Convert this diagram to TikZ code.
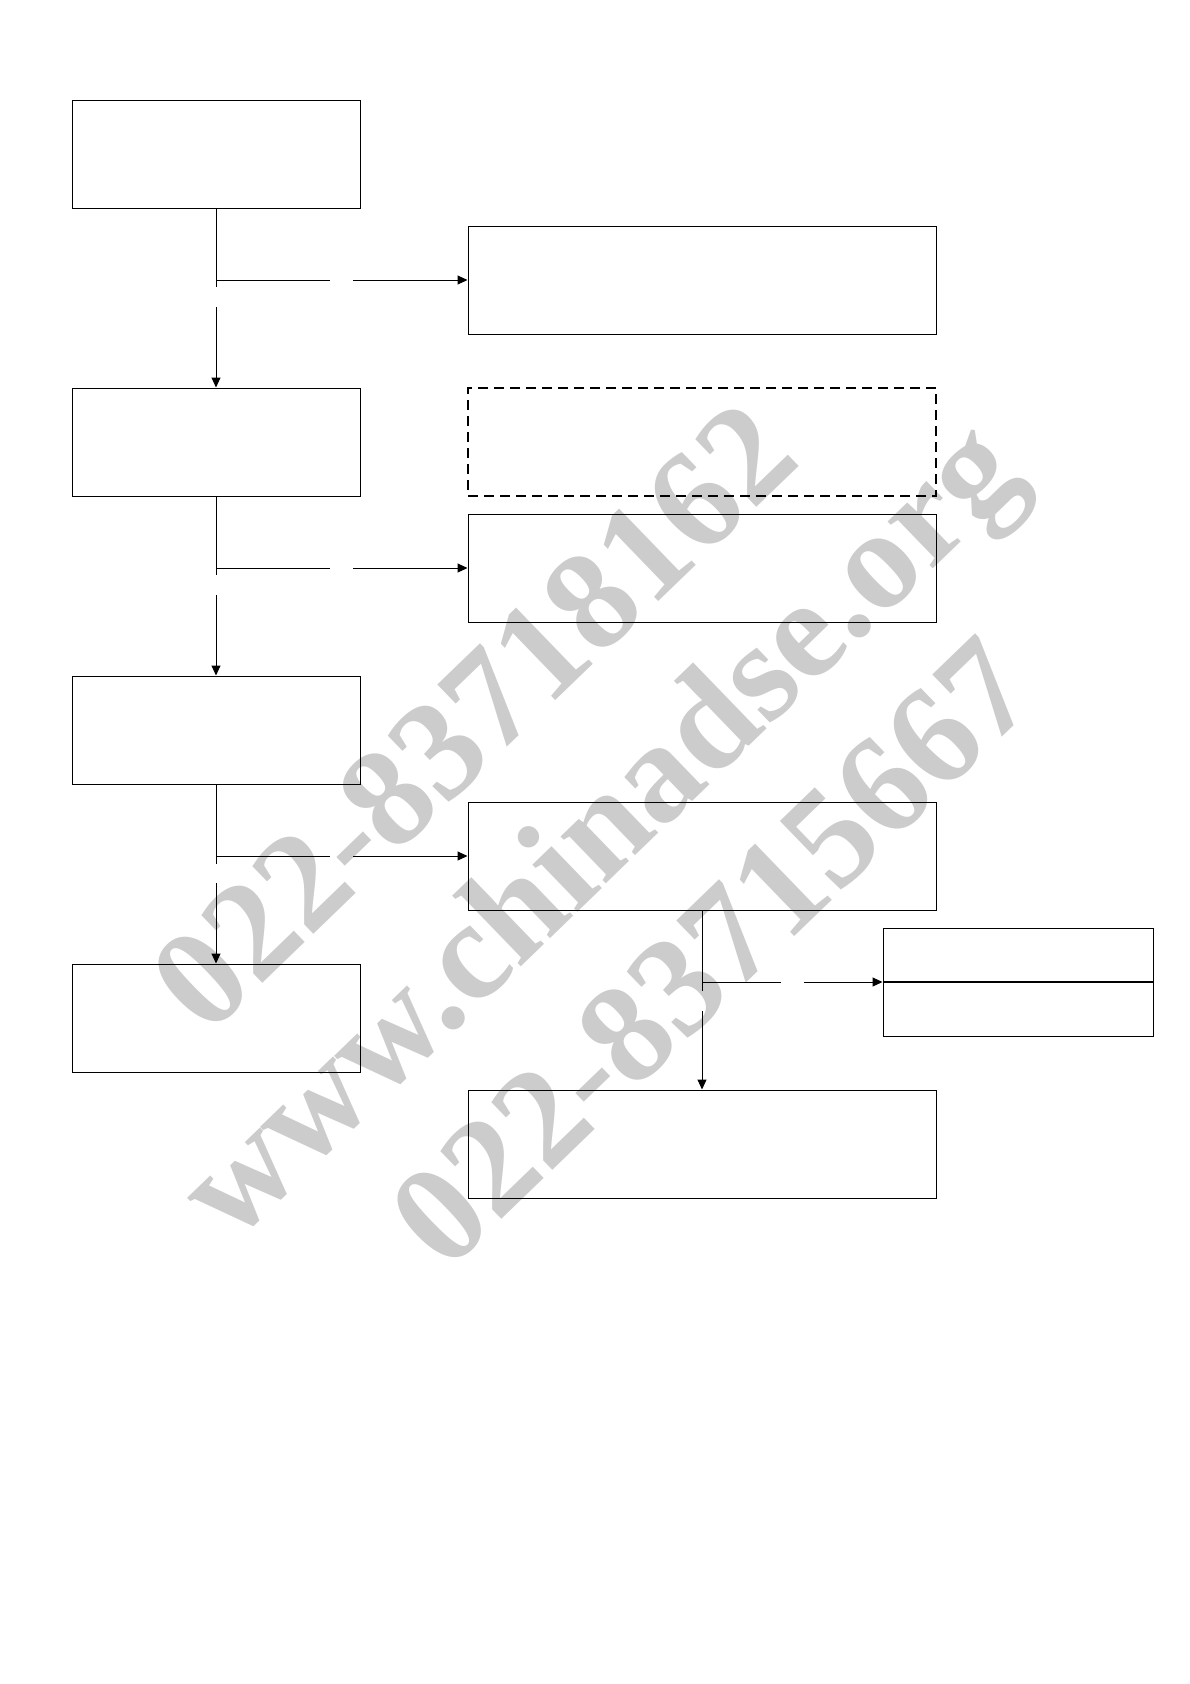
\documentclass[tikz,border=0pt]{standalone}
\usepackage{fontspec}
\setmainfont{Liberation Serif}
\usetikzlibrary{arrows.meta}
\definecolor{wmgray}{RGB}{204,204,204}
\begin{document}
\begin{tikzpicture}[x=1pt,y=-1pt,line width=1pt,>={Triangle[length=10pt,width=9pt]}]

        \useasboundingbox (0,0) rectangle (1190,1684);

        % watermark
        \begin{scope}[every node/.style={text=wmgray, rotate=44, font=\bfseries\fontsize{142}{142}\selectfont}]
          \node (wmA) at (473,716) {022-83718162};
          \node (wmB) at (606,838) {www.chinadse.org};
          \node (wmC) at (712,952) {022-83715667};
        \end{scope}

        \begin{scope}[every node/.style={draw, inner sep=0pt, minimum height=108pt}]
          \node[minimum width=288pt] (l1) at (216,154)  {};
          \node[minimum width=288pt] (l2) at (216,442)  {};
          \node[minimum width=288pt] (l3) at (216,730)  {};
          \node[minimum width=288pt] (l4) at (216,1018) {};
          \node[minimum width=468pt] (r1) at (702,280)  {};
          \node[minimum width=468pt, line width=1.3pt, dash pattern=on 10pt off 6pt] (r2) at (702,442) {};
          \node[minimum width=468pt] (r3) at (702,568)  {};
          \node[minimum width=468pt] (r4) at (702,856)  {};
          \node[minimum width=468pt] (r5) at (702,1144) {};
          \node[minimum width=270pt] (s)  at (1018,982) {};
        \end{scope}
        \draw[line width=1.6pt] (s.west) -- (s.east);

        % branch points and the gaps on the lines
        \coordinate (j1)  at (216,280);
        \coordinate (g1a) at (216,287);
        \coordinate (g1b) at (216,307);
        \coordinate (h1a) at (330,280);
        \coordinate (h1b) at (353,280);

        \coordinate (j2)  at (216,568);
        \coordinate (g2a) at (216,575);
        \coordinate (g2b) at (216,595);
        \coordinate (h2a) at (330,568);
        \coordinate (h2b) at (353,568);

        \coordinate (j3)  at (216,856);
        \coordinate (g3a) at (216,864);
        \coordinate (g3b) at (216,883);
        \coordinate (h3a) at (330,856);
        \coordinate (h3b) at (353,856);

        \coordinate (j4)  at (702,982);
        \coordinate (g4a) at (702,991);
        \coordinate (g4b) at (702,1011);
        \coordinate (h4a) at (781,982);
        \coordinate (h4b) at (804,982);

        \draw (l1) -- (g1a);
        \draw[->] (g1b) -- (l2);
        \draw (j1) -- (h1a);
        \draw[->] (h1b) -- (r1);

        \draw (l2) -- (g2a);
        \draw[->] (g2b) -- (l3);
        \draw (j2) -- (h2a);
        \draw[->] (h2b) -- (r3);

        \draw (l3) -- (g3a);
        \draw[->] (g3b) -- (l4);
        \draw (j3) -- (h3a);
        \draw[->] (h3b) -- (r4);

        \draw (r4) -- (g4a);
        \draw[->] (g4b) -- (r5);
        \draw (j4) -- (h4a);
        \draw[->] (h4b) -- (s.west);

      \end{tikzpicture}
\end{document}
